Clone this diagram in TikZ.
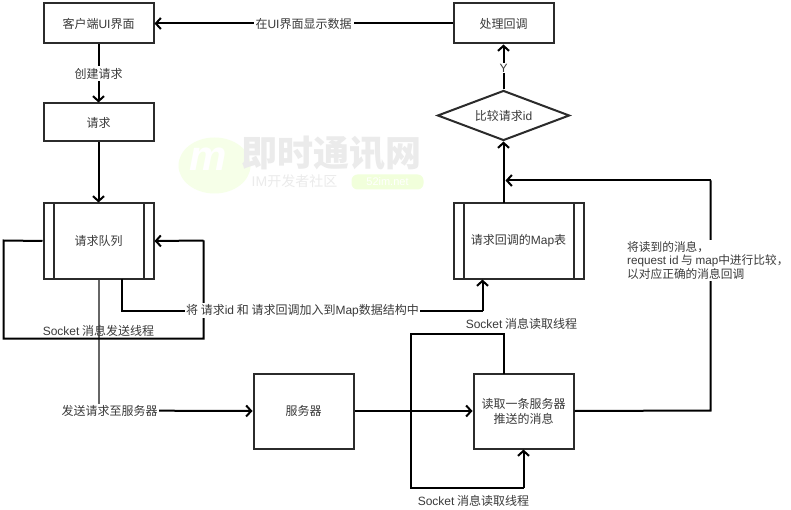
\documentclass[tikz,border=0pt]{standalone}
\usepackage{fontspec}
\setmainfont{Liberation Sans}
\newfontfamily\cjk{Noto Sans CJK SC}
\usetikzlibrary{arrows.meta,shapes.geometric,calc}
\definecolor{ink}{HTML}{2B2B2B}
\definecolor{lab}{HTML}{3A3A3A}
\tikzset{
  x=1pt,y=-1pt,
  box/.style={draw=ink,line width=2pt,fill=white,minimum width=#1,inner sep=0pt,anchor=center,font=\cjk\fontsize{12}{15}\selectfont,text=lab,align=center},
  dia/.style={draw=ink,line width=2pt,diamond,aspect=2.64,minimum width=132pt,minimum height=50pt,inner sep=0pt,font=\cjk\fontsize{12}{15}\selectfont,text=lab},
  lbl/.style={font=\cjk\fontsize{12}{15}\selectfont,text=lab,inner sep=2pt},
  blbl/.style={lbl,fill=white},
  conn/.style={draw=black,line width=2pt},
  arr/.style={conn,-{Straight Barb[length=5pt,width=11pt,line width=2pt]}},
  inner/.style={draw=ink,line width=2pt},
}
\newcommand{\lat}[1]{{\fontspec{Liberation Sans}#1}}
\begin{document}
\begin{tikzpicture}
\useasboundingbox (0.5,0.5) rectangle (791.5,510.5);
\fill[white] (0.5,0.5) rectangle (791.5,510.5);
% watermark
\begin{scope}
  \fill[green!40!yellow!9] (215,166) ellipse (36 and 28);
  \node[text=white,font=\bfseries\itshape\fontsize{42}{42}\selectfont] (wm) at (209,160) {\lat{m}};
  \node[text=black!8,font=\cjk\bfseries\fontsize{36}{36}\selectfont,inner sep=0pt] (wt) at (332,154) {即时通讯网};
  \node[text=black!8,font=\cjk\fontsize{14}{14}\selectfont,inner sep=0pt] (ws) at (295,182) {\lat{IM}开发者社区};
  \fill[green!40!yellow!14,rounded corners=6pt] (352,175) rectangle (424,190);
  \node[text=white,font=\fontsize{11}{11}\selectfont,inner sep=0pt] (wn) at (388,182) {52im.net};
\end{scope}
% nodes
\node[box=110pt,minimum height=40pt] (client) at (99,24) {客户端\lat{UI}界面};
\node[box=100pt,minimum height=40pt] (cb) at (504,24) {处理回调};
\node[dia] (cmp) at (504,116) {比较请求\lat{id}};
\node[box=110pt,minimum height=38pt] (req) at (99,123) {请求};
\node[box=110pt,minimum height=75pt] (queue) at (99,241.5) {请求队列};
\node[box=130pt,minimum height=75pt] (map) at (519,241.5) {请求回调的\lat{Map}表};
\node[box=100pt,minimum height=75pt] (srv) at (304,411.5) {服务器};
\node[box=100pt,minimum height=75pt] (rd) at (524,411.5) {读取一条服务器\\推送的消息};
\draw[inner] (54,204) -- (54,279) (144,204) -- (144,279);
\draw[inner] (464,204) -- (464,279) (574,204) -- (574,279);
% free coordinates
\coordinate (qbot1) at (122,279);
\coordinate (q1) at (122,311);
\coordinate (m1) at (483,311);
\coordinate (mbot) at (483,280);
\coordinate (mtop) at (504,204);
\coordinate (rdtop) at (504,374);
\coordinate (rdbot) at (524,450);
\coordinate (t1) at (504,334);
\coordinate (t2) at (411,334);
\coordinate (t3) at (411,488);
\coordinate (t4) at (524,488);
\coordinate (l1) at (4,241);
\coordinate (l2) at (4,339);
\coordinate (l3) at (204,339);
\coordinate (l4) at (204,241);
\coordinate (s1) at (99,411);
\coordinate (r1) at (711,411);
\coordinate (r2) at (711,181);
\coordinate (r3) at (506,181);
% connectors
\draw[conn,draw=black!60] (queue.south) -- (s1);
\draw[arr] (s1) -- (srv.west);
\draw[conn] (queue.west) -- (l1) -- (l2) -- (l3) -- (l4);
\draw[arr] (l4) -- (queue.east);
\draw[conn] (qbot1) -- (q1) -- (m1);
\draw[arr] (m1) -- (mbot);
\draw[arr] (client.south) -- node[blbl,pos=.5] {创建请求} (req.north);
\draw[arr] (req.south) -- (queue.north);
\draw[arr] (cb.west) -- node[blbl] {在\lat{UI}界面显示数据} (client.east);
\draw[arr] (cmp.north) -- node[blbl,font=\fontsize{12}{14}\selectfont,inner sep=1pt,pos=.47] {Y} (cb.south);
\draw[arr] (mtop) -- (cmp.south);
\draw[arr] (srv.east) -- (rd.west);
\draw[conn] (rdtop) -- (t1) -- (t2) -- (t3) -- (t4);
\draw[arr] (t4) -- (rdbot);
\draw[conn] (rd.east) -- (r1) -- (r2);
\draw[arr] (r2) -- (r3);
% labels
\node[blbl,inner sep=1pt] (lq) at (303,311) {将 请求\lat{id} 和 请求回调加入到\lat{Map}数据结构中};
\node[lbl] (ls) at (99,331) {\lat{Socket} 消息发送线程};
\node[blbl,inner sep=1pt] (lsv) at (110,411) {发送请求至服务器};
\node[lbl] (lt) at (522,324) {\lat{Socket} 消息读取线程};
\node[lbl] (lb) at (474,501) {\lat{Socket} 消息读取线程};
\node[blbl,align=left,anchor=west,inner sep=1pt,font=\cjk\fontsize{11.7}{13.7}\selectfont] (lr) at (626.5,261) {将读到的消息，\\\lat{request id} 与 \lat{map}中进行比较，\\以对应正确的消息回调};
\end{tikzpicture}
\end{document}
